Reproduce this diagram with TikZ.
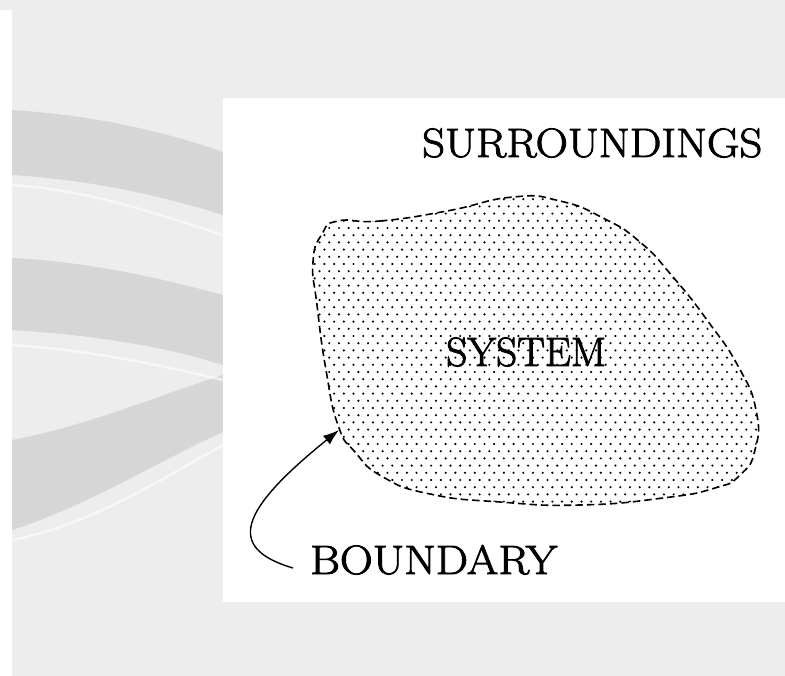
\documentclass[tikz,border=0pt]{standalone}
\usepackage{graphicx}
\usepackage{fontspec}
\newfontfamily\labelfont{Latin Modern Roman}[FakeBold=2]
\usetikzlibrary{arrows.meta,positioning}

% outline of the system region
\newcommand{\systemshape}{plot[smooth cycle, tension=0.9] coordinates {
    (338,221) (380,221) (447,211) (513,197) (560,201) (603,218) (640,242)
    (673,277) (707,320) (738,366) (756,410) (755,450) (740,475) (715,488)
    (663,498) (580,505) (500,502) (430,494) (383,477) (355,452) (338,425)
    (326,370) (317,305) (313,262) (322,234)}}

\begin{document}
\begin{tikzpicture}[x=1pt, y=-1pt,
    bigtext/.style={font=\labelfont\fontsize{41}{48}\selectfont, inner sep=0pt, anchor=base west},
    sysline/.style={draw=black, line width=1.6pt, dash pattern=on 7.5pt off 4pt},
    texture/.style={fill=black!7, draw=none},
    band/.style={fill=black!16, draw=none},
    streak/.style={draw=white, opacity=0.6, line width=2.5pt, line cap=round},
    pointer/.style={-{Latex[length=16pt, width=11pt]}, line width=1.4pt}
]
\useasboundingbox (0,0) rectangle (785,676);

% Textured background
\fill[texture] (0,0) rectangle (785,676);
\fill[white] (0,10) rectangle (12,676);
\fill[band] (12,110) .. controls (90,115) and (160,130) .. (223,152) -- (223,215) .. controls (160,195) and (90,180) .. (12,175) -- cycle;
\fill[band] (12,258) .. controls (90,262) and (160,278) .. (223,295) -- (223,365) .. controls (160,345) and (90,335) .. (12,330) -- cycle;
\fill[band] (12,440) .. controls (90,425) and (160,395) .. (223,375) -- (223,432) .. controls (160,460) and (90,505) .. (12,530) -- cycle;
\draw[streak] (12,185) .. controls (90,190) and (160,215) .. (223,235);
\draw[streak] (12,345) .. controls (90,350) and (160,365) .. (223,380);
\draw[streak] (12,540) .. controls (90,525) and (160,480) .. (223,445);

% Paper
\fill[white] (223,98) rectangle (785,602);

% System region, dotted
\begin{scope}
    \clip \systemshape;
    \foreach \r in {0,...,45} {
        \foreach \c in {0,...,48} {
            \fill ({305+9.7*\c+4.85*mod(\r,2)}, {192+7.2*\r}) circle (1.2pt);
        }
    }
\end{scope}
\draw[sysline] \systemshape;

% Labels
\node[bigtext] (surr) at (422,157) {\scalebox{1.09}[1]{SURROUNDINGS}};
\node[bigtext] (sys) at (446,366) {\scalebox{1.01}[1]{SYSTEM}};
\node[bigtext] (bnd) at (310,574) {\scalebox{1.11}[1]{BOUNDARY}};

% Pointer to the boundary
\coordinate (tip) at (339,430);
\coordinate (tail) at (293,568);
\draw[pointer] (tail) .. controls (225,548) and (240,510) .. (tip);

\end{tikzpicture}
\end{document}
